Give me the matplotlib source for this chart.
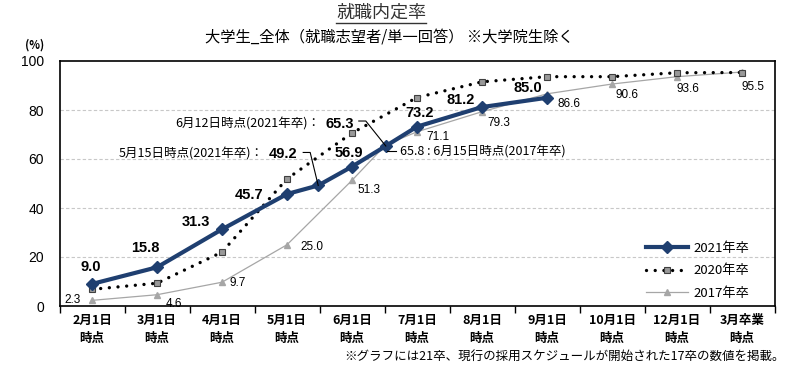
import matplotlib
matplotlib.use('Agg')
import matplotlib.pyplot as plt
import matplotlib.transforms as mtransforms
from matplotlib.lines import Line2D

plt.rcParams['font.family'] = ['Noto Sans CJK JP', 'DejaVu Sans']
NUM_FONT = ['Liberation Sans', 'DejaVu Sans']

# --- data ---
categories = ['2月1日\n時点', '3月1日\n時点', '4月1日\n時点', '5月1日\n時点', '6月1日\n時点',
              '7月1日\n時点', '8月1日\n時点', '9月1日\n時点', '10月1日\n時点', '12月1日\n時点',
              '3月卒業\n時点']

# position on the category axis (5/15, 6/12, 6/15 sit between months)
x_2021 = [0, 1, 2, 3, 3.48, 4, 4.52, 5, 6, 7]
y_2021 = [9.0, 15.8, 31.3, 45.7, 49.2, 56.9, 65.3, 73.2, 81.2, 85.0]

x_2020 = [0, 1, 2, 3, 4, 5, 6, 7, 8, 9, 10]
y_2020 = [6.8, 9.3, 22.0, 51.9, 70.6, 85.1, 91.5, 93.6, 93.6, 95.2, 95.3]

x_2017 = [0, 1, 2, 3, 4, 4.52, 5, 6, 7, 8, 9, 10]
y_2017 = [2.3, 4.6, 9.7, 25.0, 51.3, 65.8, 71.1, 79.3, 86.6, 90.6, 93.6, 95.5]

# label offsets from the marker, in pixels (dx, dy up)
off_2021 = {0: (-1, 17), 1: (-12, 19), 2: (-26, 7), 3: (-38, -1), 5: (-3, 14),
            7: (3, 14), 8: (-21, 7), 9: (-19, 10)}
off_2017 = {0: (-19, 0), 1: (17, -9), 2: (16, -1), 3: (25, -2), 4: (17, -10),
            6: (21, -5), 7: (17, -11), 8: (22, -10), 9: (15, -11), 10: (11, -12),
            11: (11, -15)}

NAVY = '#1F3F70'
GRAY17 = '#A6A6A6'

fig = plt.figure(figsize=(8, 3.66), dpi=100)
ax = fig.add_axes([59.5 / 800, 1 - 306 / 366, 715 / 800, 245 / 366])

ax.plot(x_2017, y_2017, color=GRAY17, lw=0.9, marker='^', ms=5,
        mfc=GRAY17, mec=GRAY17, label='2017年卒', zorder=3)
ax.plot(x_2020, y_2020, color='black', lw=2.4, linestyle=(0, (0.01, 2.6)),
        dash_capstyle='round', marker='s', ms=5, mfc='#999999', mec='#404040',
        mew=0.8, label='2020年卒', zorder=4)
ax.plot(x_2021, y_2021, color=NAVY, lw=3, marker='D', ms=6.5,
        mfc=NAVY, mec=NAVY, label='2021年卒', zorder=5)

ax.set_xlim(-0.5, 10.5)
ax.set_ylim(0, 100)
ax.set_yticks([0, 20, 40, 60, 80, 100])
ax.tick_params(axis='y', length=0, pad=11, labelsize=10)
for t in ax.get_yticklabels():
    t.set_family(NUM_FONT)
ax.set_xticks(range(len(categories)))
ax.set_xticklabels(categories, fontsize=9, fontweight='bold', linespacing=1.5)
ax.set_xticks([i - 0.5 for i in range(len(categories) + 1)], minor=True)
ax.tick_params(axis='x', which='major', length=0, pad=6)
ax.tick_params(axis='x', which='minor', length=5, width=1, color='black')

for v in [20, 40, 60, 80]:
    ax.axhline(v, color='#C8C8C8', lw=0.8, linestyle=(0, (3, 2)), zorder=1)
for s in ax.spines.values():
    s.set_linewidth(1.2)
    s.set_color('black')

# point labels
for i, (dx, dy) in off_2021.items():
    ax.annotate(f'{y_2021[i]:.1f}', (x_2021[i], y_2021[i]), xytext=(dx * 0.72, dy * 0.72),
                textcoords='offset points', ha='center', va='center', fontsize=10.5,
                fontweight='bold', family=NUM_FONT, zorder=6)
for i, (dx, dy) in off_2017.items():
    if i == 5:
        continue
    ax.annotate(f'{y_2017[i]:.1f}', (x_2017[i], y_2017[i]), xytext=(dx * 0.72, dy * 0.72),
                textcoords='offset points', ha='center', va='center', fontsize=8.5,
                family=NUM_FONT, zorder=6)


def leader(x, y, pts):
    trans = fig.dpi_scale_trans + mtransforms.ScaledTranslation(x, y, ax.transData)
    xs = [p[0] / 100 for p in pts]
    ys = [p[1] / 100 for p in pts]
    ax.add_line(Line2D(xs, ys, transform=trans, color='black', lw=0.8, zorder=6,
                       clip_on=False))


# callouts
i = 6
leader(x_2021[i], y_2021[i], [(0, 0), (-20, 25), (-27, 25)])
ax.annotate(f'{y_2021[i]:.1f}', (x_2021[i], y_2021[i]), xytext=(-32 * 0.72, 22 * 0.72),
            textcoords='offset points', ha='right', va='center', fontsize=10.5,
            fontweight='bold', family=NUM_FONT, zorder=6)
ax.annotate('6月12日時点(2021年卒)：', (x_2021[i], y_2021[i]), xytext=(-66 * 0.72, 22 * 0.72),
            textcoords='offset points', ha='right', va='center', fontsize=9, zorder=6)

i = 4
leader(x_2021[i], y_2021[i], [(0, 0), (-8, 33), (-15, 33)])
ax.annotate(f'{y_2021[i]:.1f}', (x_2021[i], y_2021[i]), xytext=(-21 * 0.72, 31 * 0.72),
            textcoords='offset points', ha='right', va='center', fontsize=10.5,
            fontweight='bold', family=NUM_FONT, zorder=6)
ax.annotate('5月15日時点(2021年卒)：', (x_2021[i], y_2021[i]), xytext=(-55 * 0.72, 31 * 0.72),
            textcoords='offset points', ha='right', va='center', fontsize=9, zorder=6)

i = 5
leader(x_2017[i], y_2017[i], [(1, -6), (10, -6)])
ax.annotate(f'{y_2017[i]:.1f} : 6月15日時点(2017年卒)', (x_2017[i], y_2017[i]),
            xytext=(14 * 0.72, -7 * 0.72), textcoords='offset points', ha='left',
            va='center', fontsize=9, zorder=6)

# legend
h, l = ax.get_legend_handles_labels()
ax.legend(h[::-1], l[::-1], loc='upper left', bbox_to_anchor=(0.82, 0.262),
          frameon=False, fontsize=9.5, handlelength=3.2, handletextpad=0.45,
          labelspacing=0.72, borderpad=0, borderaxespad=0, numpoints=1)

# titles and notes
title = fig.text(381 / 800, 1 - 13 / 366, '就職内定率', ha='center', va='center',
                 fontsize=13, color='#333333')
fig.text(389 / 800, 1 - 38 / 366, '大学生_全体（就職志望者/単一回答） ※大学院生除く',
         ha='center', va='center', fontsize=11)
fig.text(35 / 800, 1 - 45 / 366, '(%)', ha='center', va='center', fontsize=8,
         fontweight='bold')
fig.text(785 / 800, 1 - 356 / 366,
         '※グラフには21卒、現行の採用スケジュールが開始された17卒の数値を掲載。',
         ha='right', va='center', fontsize=9)

fig.canvas.draw()
bb = title.get_window_extent()
fig.add_artist(Line2D([bb.x0 / 800, bb.x1 / 800], [1 - 23 / 366, 1 - 23 / 366],
                      transform=fig.transFigure, color='#333333', lw=1))

fig.savefig('out.png', dpi=100)
